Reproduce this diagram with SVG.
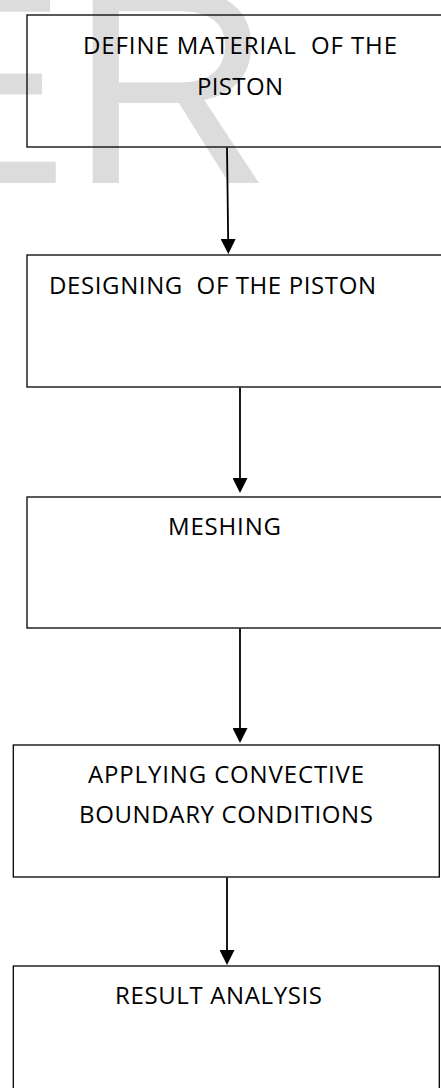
<svg xmlns="http://www.w3.org/2000/svg" width="441" height="1088" viewBox="0 0 441 1088">
  <defs>
    <style>
      .box { fill: none; stroke: #000; stroke-width: 1.3; }
      .label { font-family: "Open Sans", "Liberation Sans", sans-serif; font-size: 24px; fill: #000; white-space: pre; }
      .mid { text-anchor: middle; }
      .link { fill: none; stroke: #000; stroke-width: 1.8; marker-end: url(#head); }
      .mark { font-family: "Liberation Sans", Arial, sans-serif; font-size: 280px; letter-spacing: 2px; fill: #dcdcdc; }
    </style>
    <marker id="head" markerUnits="userSpaceOnUse" markerWidth="15" markerHeight="15" refX="11" refY="7.5" orient="auto">
      <path d="M0,0 L15,7.5 L0,15 Z" fill="#000"/>
    </marker>
  </defs>

  <rect width="441" height="1088" fill="#fff"/>

  <!-- faint background lettering -->
  <text class="mark" x="-119" y="183">ER</text>

  <!-- connectors between steps -->
  <g id="connectors">
    <path class="link" d="M227,147.5 L228.3,250"/>
    <path class="link" d="M240,387.5 L240,489"/>
    <path class="link" d="M240,628.5 L240,739"/>
    <path class="link" d="M227,877.5 L227,961"/>
  </g>

  <g id="step-material">
    <rect class="box" x="27" y="15" width="430" height="132"/>
    <text class="label mid" x="240" y="54" textLength="314">DEFINE MATERIAL  OF THE</text>
    <text class="label mid" x="240" y="95" textLength="86">PISTON</text>
  </g>

  <g id="step-design">
    <rect class="box" x="27" y="255" width="430" height="132"/>
    <text class="label" x="49" y="293.5" textLength="327">DESIGNING  OF THE PISTON</text>
  </g>

  <g id="step-meshing">
    <rect class="box" x="27" y="497" width="430" height="131"/>
    <text class="label mid" x="224.5" y="535" textLength="113">MESHING</text>
  </g>

  <g id="step-boundary">
    <rect class="box" x="13.3" y="745" width="426" height="132"/>
    <text class="label mid" x="226" y="783" textLength="276">APPLYING CONVECTIVE</text>
    <text class="label mid" x="226" y="823" textLength="294">BOUNDARY CONDITIONS</text>
  </g>

  <g id="step-result">
    <rect class="box" x="13.3" y="966" width="426" height="140"/>
    <text class="label mid" x="218.5" y="1004" textLength="207">RESULT ANALYSIS</text>
  </g>
</svg>
